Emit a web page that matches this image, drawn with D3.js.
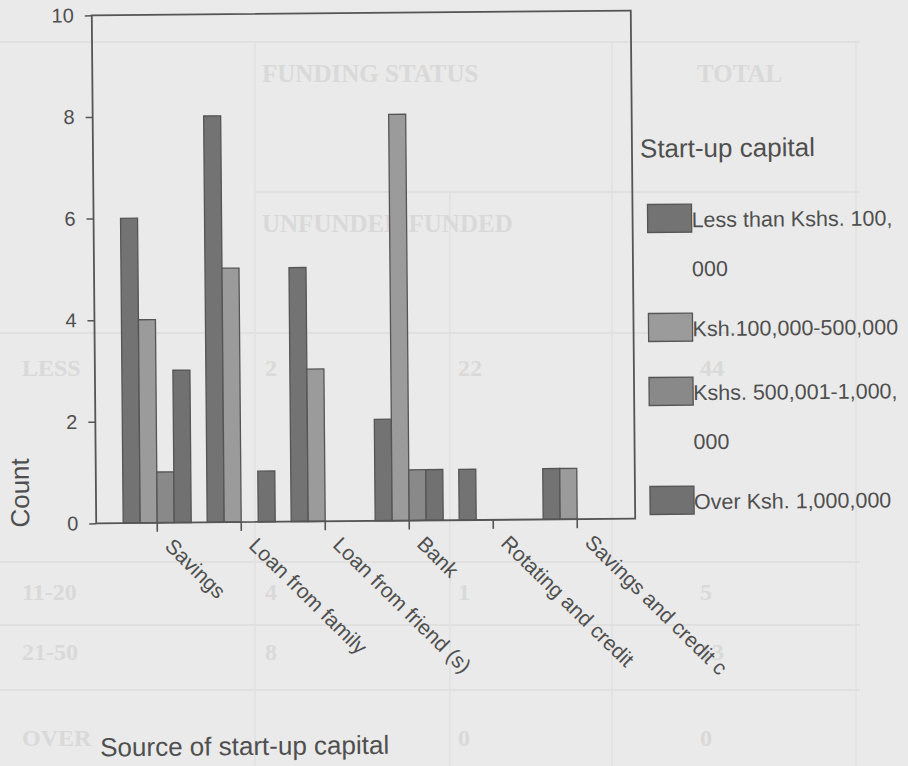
<!DOCTYPE html>
<html>
<head>
<meta charset="utf-8">
<script src="https://cdn.jsdelivr.net/npm/d3@7/dist/d3.min.js"></script>
<style>
	body{margin:0;background:#eaeaea}
	svg{display:block}
	.chart text{font-family:"Liberation Sans",Arial,sans-serif;fill:#4f4f4f}
	.ghost text{font-family:"Liberation Serif","DejaVu Serif",serif;font-weight:bold;fill:#d9d9d9}
</style>
</head>
<body>
<div id="chart_display"></div>
<script>

const categories = ["Savings","Loan from family","Loan from friend (s)","Bank","Rotating and credit","Savings and credit c"]
const seriesNames = ["Less than Kshs. 100, 000","Ksh.100,000-500,000","Kshs. 500,001-1,000, 000","Over Ksh. 1,000,000"]
// legend labels are wrapped like in the original
const legendLines = [["Less than Kshs. 100,","000"],["Ksh.100,000-500,000"],["Kshs. 500,001-1,000,","000"],["Over Ksh. 1,000,000"]]

const lessThan100k = [6,8,5,2,1,1]
const from100kTo500k = [4,5,3,8,0,1]
const from500kTo1m = [1,0,0,1,0,0]
const over1m = [3,1,0,1,0,0]

const yTicks = [0,2,4,6,8,10]

// faint table showing through the scanned page
const ghostHeader = ["FUNDING STATUS","TOTAL","UNFUNDED FUNDED"]
const ghostRows = [["LESS","2","22","44"],["11-20","4","1","5"],["21-50","8","","13"],["OVER","","0","0"]]


function drawGhost(svg){
	const g = svg.append("g").attr("class","ghost")
	const hLines = [[0,42,860],[255,192,860],[0,333,860],[0,562,860],[0,625,860],[0,690,860]]
	const vLines = [[255,42,766],[450,192,766],[612,42,766],[856,42,766]]
	g.selectAll(".hl").data(hLines).enter().append("line")
		.attr("x1",d=>d[0]).attr("x2",d=>d[2]).attr("y1",d=>d[1]).attr("y2",d=>d[1])
		.attr("stroke","#dddddd").attr("stroke-width",1.5)
	g.selectAll(".vl").data(vLines).enter().append("line")
		.attr("x1",d=>d[0]).attr("x2",d=>d[0]).attr("y1",d=>d[1]).attr("y2",d=>d[2])
		.attr("stroke","#e0e0e0").attr("stroke-width",1.5)

	const headerPos = [[262,82],[697,82],[262,232]]
	g.selectAll(".hd").data(ghostHeader).enter().append("text")
		.attr("x",(d,i)=>headerPos[i][0]).attr("y",(d,i)=>headerPos[i][1])
		.style("font-size","25px")
		.text(d=>d)

	const rowY = [376,600,660,746]
	const colX = [22,265,458,700]
	ghostRows.forEach((row,i)=>{
		g.selectAll(".r"+i).data(row).enter().append("text")
			.attr("x",(d,j)=>colX[j]).attr("y",rowY[i])
			.style("font-size","24px")
			.text(d=>d)
	})
}


function drawChart(){
	let width = 908
	let height = 766
	let left = 94, right = 633, top = 13, bottom = 521

	const svg = d3.select("#chart_display")
		.append("svg")
		.attr("width",width)
		.attr("height",height)

	svg.append("rect").attr("width",width).attr("height",height).attr("fill","#eaeaea")
	drawGhost(svg)

	// the scan is slightly tilted
	const g = svg.append("g")
		.attr("class","chart")
		.attr("transform","rotate(-0.5,363,268)")

	const data = categories.map((c,i)=>({
		category:c,
		values:[lessThan100k[i],from100kTo500k[i],from500kTo1m[i],over1m[i]]
	}))

	let x0 = d3.scaleBand().domain(categories).range([113,617]).paddingInner(0.19).paddingOuter(0.095)
	let x1 = d3.scaleBand().domain(seriesNames).range([0,x0.bandwidth()])
	let y = d3.scaleLinear().domain([0,10]).range([bottom,top])
	let color = d3.scaleOrdinal().domain(seriesNames).range(["#737373","#9b9b9b","#898989","#717171"])

	const groups = g.selectAll(".group")
		.data(data)
		.enter().append("g")
		.attr("class","group")
		.attr("transform",d=>"translate("+x0(d.category)+",0)")

	groups.selectAll("rect")
		.data(d=>d.values.map((v,i)=>({series:seriesNames[i],value:v})).filter(e=>e.value>0))
		.enter().append("rect")
		.attr("x",d=>x1(d.series))
		.attr("width",x1.bandwidth())
		.attr("y",d=>y(d.value))
		.attr("height",d=>bottom-y(d.value))
		.attr("fill",d=>color(d.series))
		.attr("stroke","#555")
		.attr("stroke-width",1.3)

	// frame
	g.append("rect")
		.attr("x",left).attr("y",top)
		.attr("width",right-left).attr("height",bottom-top)
		.attr("fill","none").attr("stroke","#555").attr("stroke-width",1.8)

	const yAxis = g.append("g")
		.attr("transform","translate("+left+",0)")
		.call(d3.axisLeft(y).tickValues(yTicks).tickSize(7).tickPadding(11))
	yAxis.select(".domain").remove()
	yAxis.selectAll("line").attr("stroke","#555").attr("stroke-width",1.5)
	yAxis.selectAll("text").style("font-size","20px").attr("fill","#4f4f4f")

	const xAxis = g.append("g")
		.attr("transform","translate(0,"+bottom+")")
		.call(d3.axisBottom(x0).tickSize(9))
	xAxis.select(".domain").remove()
	xAxis.selectAll("line").attr("stroke","#555").attr("stroke-width",1.6)
	xAxis.selectAll("text")
		.attr("x",22).attr("y",13).attr("dy",0)
		.attr("transform","rotate(45)")
		.style("text-anchor","start")
		.style("font-size","21px")
		.attr("fill","#4f4f4f")

	g.append("text")
		.attr("x",96).attr("y",754)
		.style("font-size","26px")
		.text("Source of start-up capital")

	g.append("text")
		.attr("transform","translate(27,490) rotate(-90)")
		.style("text-anchor","middle")
		.style("font-size","26px")
		.text("Count")

	// legend
	const legend = g.append("g").attr("transform","translate(648,0)")
	legend.append("text")
		.attr("x",-7).attr("y",160)
		.style("font-size","26px")
		.text("Start-up capital")

	let yPos = 207
	legendLines.forEach((lines,i)=>{
		const item = legend.append("g").attr("transform","translate(0,"+yPos+")")
		item.append("rect")
			.attr("width",44).attr("height",28)
			.attr("fill",color(seriesNames[i]))
			.attr("stroke","#555").attr("stroke-width",1.3)
		item.selectAll("text")
			.data(lines)
			.enter().append("text")
			.attr("x",44)
			.attr("y",(d,j)=>23+j*49)
			.style("font-size","21.5px")
			.text(d=>d)
		yPos += 64+(lines.length-1)*45
	})
}

drawChart()
</script>
</body>
</html>
